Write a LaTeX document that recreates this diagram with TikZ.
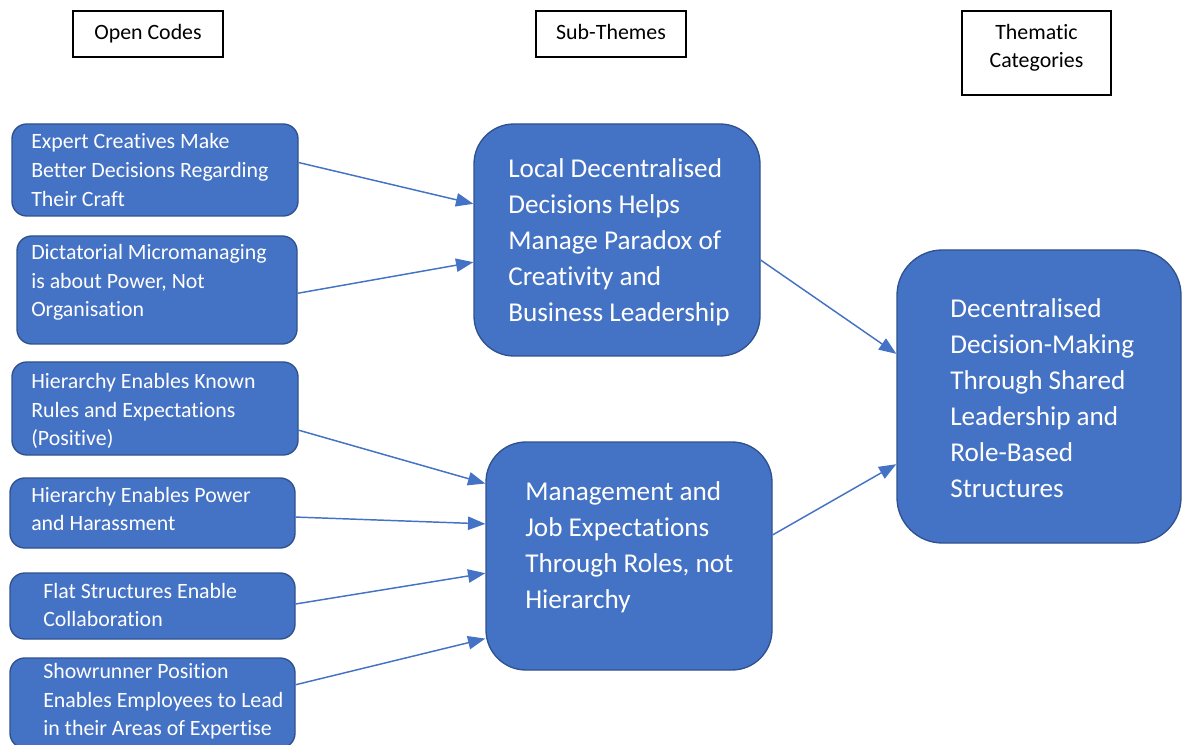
\documentclass[tikz,border=0pt]{standalone}
\usepackage{fontspec}
\setmainfont{Carlito}[Ligatures=NoCommon]
\usetikzlibrary{arrows.meta,fit,calc}
\definecolor{fillblue}{HTML}{4472C4}
\definecolor{edgeblue}{HTML}{2F528F}
\begin{document}
\begin{tikzpicture}[x=0.75pt,y=-0.75pt,
  codebox/.style={draw=edgeblue, fill=fillblue, line width=1pt, rounded corners=11pt, inner sep=0pt},
  themebox/.style={codebox, rounded corners=30pt},
  catbox/.style={codebox, rounded corners=34pt},
  codetext/.style={text=white, font=\fontsize{16.4}{21.4}\selectfont, align=left, inner sep=0pt, anchor=west},
  themetext/.style={codetext, font=\fontsize{20.4}{27}\selectfont},
  header/.style={draw=black, line width=1pt, inner sep=0pt, minimum width=112.5pt, minimum height=34.5pt},
  headtext/.style={align=center, inner sep=0pt, font=\fontsize{16.4}{21}\selectfont},
  link/.style={draw=fillblue, line width=1.1pt, -{Triangle[length=13pt,width=10pt]}}]
\useasboundingbox (0,0) rectangle (1182,745);

% headers
\node[header] (h1) at (148,34) {};
\node[headtext, anchor=base] (h1t) at (148,40) {Open Codes};
\node[header] (h2) at (611,34) {};
\node[headtext, anchor=base] (h2t) at (611,40) {Sub-Themes};
\node[header, minimum width=111.75pt, minimum height=63pt] (h3) at (1036.5,53) {};
\node[headtext] (h3t) at (1036.5,48) {Thematic\\Categories};

% open codes
\node[codebox, fit={(12,124)(298,216)}] (e1) {};
\node[codetext] (e1t) at (31,170) {Expert Creatives Make\\Better Decisions Regarding\\Their Craft};
\node[codebox, fit={(17,236)(297,344)}] (e2) {};
\node[codetext] (e2t) at (31,282.5) {Dictatorial Micromanaging\\is about Power, Not\\Organisation};
\node[codebox, fit={(12,362)(298,455)}] (e3) {};
\node[codetext] (e3t) at (31,411) {Hierarchy Enables Known\\Rules and Expectations\\(Positive)};
\node[codebox, fit={(10,478)(295,548)}] (e4) {};
\node[codetext] (e4t) at (31,509) {Hierarchy Enables Power\\and Harassment};
\node[codebox, fit={(10,573)(295,639)}] (e5) {};
\node[codetext] (e5t) at (43,605) {Flat Structures Enable\\Collaboration};
\node[codebox, fit={(10,658)(295,748)}] (e6) {};
\node[codetext] (e6t) at (43,701.5) {Showrunner Position\\Enables Employees to Lead\\in their Areas of Expertise};

% sub-themes
\node[themebox, fit={(474,124)(760,356)}] (loc) {};
\node[themetext] (loct) at (508,242.5) {Local Decentralised\\Decisions Helps\\Manage Paradox of\\Creativity and\\Business Leadership};
\node[themebox, fit={(486,442)(772,670)}] (mgt) {};
\node[themetext] (mgtt) at (525,547.5) {Management and\\Job Expectations\\Through Roles, not\\Hierarchy};

% category
\node[catbox, fit={(897,250)(1181,543)}] (cat) {};
\node[themetext] (catt) at (950,398) {Decentralised\\Decision-Making\\Through Shared\\Leadership and\\Role-Based\\Structures};

% connectors
\draw[link] ($(e1.north east)!0.42!(e1.south east)$) -- ($(loc.north west)!0.345!(loc.south west)$);
\draw[link] ($(e2.north east)!0.53!(e2.south east)$) -- ($(loc.north west)!0.595!(loc.south west)$);
\draw[link] ($(e3.north east)!0.73!(e3.south east)$) -- ($(mgt.north west)!0.184!(mgt.south west)$);
\draw[link] ($(e4.north east)!0.557!(e4.south east)$) -- ($(mgt.north west)!0.36!(mgt.south west)$);
\draw[link] ($(e5.north east)!0.47!(e5.south east)$) -- ($(mgt.north west)!0.575!(mgt.south west)$);
\draw[link] ($(e6.north east)!0.3!(e6.south east)$) -- ($(mgt.north west)!0.86!(mgt.south west)$);
\draw[link] ($(loc.north east)!0.586!(loc.south east)$) -- ($(cat.north west)!0.355!(cat.south west)$);
\draw[link] ($(mgt.north east)!0.408!(mgt.south east)$) -- ($(cat.north west)!0.73!(cat.south west)$);
\end{tikzpicture}
\end{document}
